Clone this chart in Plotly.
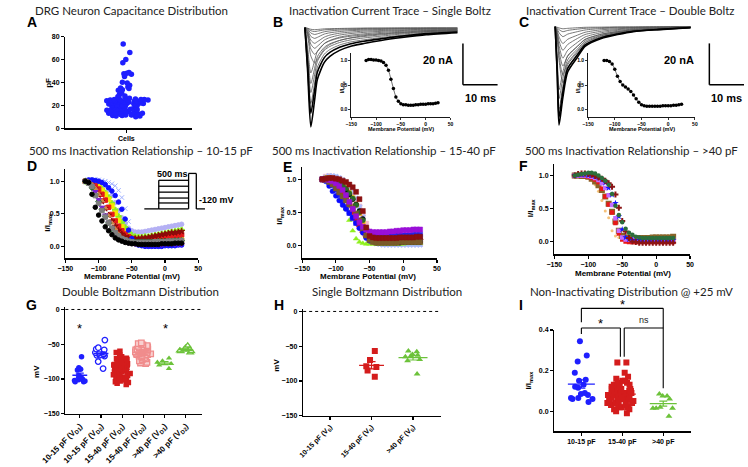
import statistics
import plotly.graph_objects as go

W, H = 748, 467

# ---------------- data ----------------
capacitance_pF = [73.5, 66, 60, 57, 48.5, 48, 47.5, 47, 45, 40, 39.5, 37.5, 36, 35, 34.5, 33.5, 33, 32.5, 30.5, 29,
                  28, 27.5, 26.5, 26, 25.5, 25, 25, 25, 25, 24.5, 24.5, 24.5, 24, 24, 24, 24, 23.5, 23.5, 23, 23,
                  23, 22.5, 22.5, 22, 22, 22, 21.5, 21.5, 21, 21, 21, 20.5, 20.5, 20, 20, 20, 19.5, 19.5, 19, 19,
                  18.5, 18, 17.5, 17.5, 17, 17, 16.5, 16.5, 16, 16, 16, 15.5, 15.5, 15.5, 15, 15, 15, 14.5, 14.5,
                  14.5, 14, 14, 14, 13.5, 13.5, 13, 13, 13, 12.5, 12.5, 12, 12, 12, 11.5, 11.5, 11, 11, 11, 10.5,
                  10.5, 10]

# current traces (ms, nA)
time_B = [0, 0.8, 1.7, 2.8, 3.6, 5.6, 7.2, 10, 13, 17, 22, 28, 35, 44]
sweep_B1 = [0, -21.6, -48.0, -35.0, -25.0, -16.8, -13.9, -11.0, -9.1, -7.7, -6.2, -4.8, -3.4, -2.4]
sweep_B2 = [0, -18.6, -41.4, -30.2, -21.5, -14.5, -12.0, -9.5, -7.9, -6.6, -5.4, -4.1, -2.9, -2.1]
sweep_B3 = [0, -16.5, -36.7, -26.8, -19.1, -12.8, -10.6, -8.4, -7.0, -5.9, -4.8, -3.7, -2.6, -1.8]
sweep_B4 = [0, -14.1, -31.4, -22.9, -16.3, -11.0, -9.1, -7.2, -6.0, -5.0, -4.1, -3.1, -2.2, -1.6]
sweep_B5 = [0, -12.2, -27.0, -19.7, -14.0, -9.5, -7.8, -6.2, -5.1, -4.3, -3.5, -2.7, -1.9, -1.4]
sweep_B6 = [0, -9.9, -21.9, -16.0, -11.4, -7.7, -6.4, -5.0, -4.2, -3.5, -2.8, -2.2, -1.5, -1.1]
sweep_B7 = [0, -4.3, -13.7, -17.1, -15.4, -10.3, -8.2, -6.2, -5.0, -3.9, -3.1, -2.4, -1.9, -1.5]
sweep_B8 = [0, -3.2, -10.3, -12.9, -11.6, -7.7, -6.2, -4.6, -3.7, -3.0, -2.3, -1.8, -1.4, -1.2]
sweep_B9 = [0, -2.5, -8.0, -10.0, -9.0, -6.0, -4.8, -3.6, -2.9, -2.3, -1.8, -1.4, -1.1, -0.9]
sweep_B10 = [0, -1.9, -6.1, -7.6, -6.8, -4.6, -3.6, -2.7, -2.2, -1.7, -1.4, -1.1, -0.8, -0.7]
sweep_B11 = [0, -1.3, -4.2, -5.2, -4.7, -3.1, -2.5, -1.9, -1.5, -1.2, -0.9, -0.7, -0.6, -0.5]
sweep_B12 = [0, -0.8, -2.6, -3.3, -3.0, -2.0, -1.6, -1.2, -1.0, -0.8, -0.6, -0.5, -0.4, -0.3]
sweep_B13 = [0, -0.5, -1.5, -1.9, -1.7, -1.1, -0.9, -0.7, -0.6, -0.4, -0.3, -0.3, -0.2, -0.2]
sweep_B14 = [0, -0.3, -0.8, -1.0, -0.9, -0.6, -0.5, -0.4, -0.3, -0.2, -0.2, -0.1, -0.1, -0.1]

time_C = [0, 0.6, 1.1, 2.2, 3.6, 6.4, 8.6, 13.3, 18, 22.5, 30, 39]
sweep_C1 = [0, -23.8, -47.6, -34.3, -21.9, -14.8, -9.5, -5.7, -3.8, -2.4, -1.4, -0.5]
sweep_C2 = [0, -21.9, -43.8, -31.5, -20.1, -13.6, -8.8, -5.3, -3.5, -2.2, -1.3, -0.4]
sweep_C3 = [0, -20.0, -40.0, -28.8, -18.4, -12.4, -8.0, -4.8, -3.2, -2.0, -1.2, -0.4]
sweep_C4 = [0, -17.4, -34.8, -25.1, -16.0, -10.8, -7.0, -4.2, -2.8, -1.7, -1.0, -0.3]
sweep_C5 = [0, -15.3, -30.5, -22.0, -14.0, -9.5, -6.1, -3.7, -2.4, -1.5, -0.9, -0.3]
sweep_C6 = [0, -6.8, -16.2, -27.0, -20.3, -13.5, -8.9, -5.1, -3.2, -2.2, -1.2, -0.5]
sweep_C7 = [0, -5.8, -14.0, -23.3, -17.5, -11.7, -7.7, -4.4, -2.8, -1.9, -1.0, -0.5]
sweep_C8 = [0, -4.8, -11.4, -19.0, -14.3, -9.5, -6.3, -3.6, -2.3, -1.5, -0.9, -0.4]
sweep_C9 = [0, -3.8, -9.1, -15.2, -11.4, -7.6, -5.0, -2.9, -1.8, -1.2, -0.7, -0.3]
sweep_C10 = [0, -2.9, -6.8, -11.4, -8.6, -5.7, -3.8, -2.2, -1.4, -0.9, -0.5, -0.2]
sweep_C11 = [0, -2.0, -4.9, -8.1, -6.1, -4.1, -2.7, -1.5, -1.0, -0.6, -0.4, -0.2]
sweep_C12 = [0, -1.2, -2.9, -4.8, -3.6, -2.4, -1.6, -0.9, -0.6, -0.4, -0.2, -0.1]
sweep_C13 = [0, -0.6, -1.4, -2.4, -1.8, -1.2, -0.8, -0.5, -0.3, -0.2, -0.1, 0.0]
sweep_C14 = [0, -0.3, -0.6, -1.0, -0.8, -0.5, -0.3, -0.2, -0.1, -0.1, 0.0, 0.0]

membrane_mV = [-120, -115, -110, -105, -100, -95, -90, -85, -80, -75, -70, -65, -60, -55, -50,
               -45, -40, -35, -30, -25, -20, -15, -10, -5, 0, 5, 10, 15, 20, 25]

inset_single = [1.00, 1.02, 1.02, 1.01, 1.01, 1.00, 0.99, 0.96, 0.90, 0.80, 0.62, 0.43, 0.26, 0.17, 0.12,
                0.10, 0.10, 0.09, 0.09, 0.09, 0.10, 0.10, 0.11, 0.11, 0.11, 0.12, 0.12, 0.12, 0.13, 0.14]
inset_double = [1.00, 1.00, 0.98, 0.93, 0.82, 0.68, 0.57, 0.50, 0.46, 0.42, 0.37, 0.30, 0.22, 0.15, 0.10,
                0.08, 0.07, 0.07, 0.07, 0.07, 0.07, 0.07, 0.08, 0.08, 0.08, 0.08, 0.09, 0.09, 0.10, 0.11]

# D: 10-15 pF cells
d_black = [1.00, 0.98, 0.80, 0.60, 0.48, 0.39, 0.30, 0.24, 0.18, 0.13, 0.10, 0.08, 0.06, 0.05, 0.04, 0.04, 0.03, 0.03, 0.03, 0.03, 0.03, 0.03, 0.03, 0.04, 0.04, 0.04, 0.04, 0.05, 0.05, 0.05]
d_gray = [1.00, 0.97, 0.92, 0.78, 0.66, 0.55, 0.45, 0.36, 0.28, 0.21, 0.16, 0.12, 0.10, 0.08, 0.07, 0.06, 0.06, 0.06, 0.06, 0.06, 0.06, 0.07, 0.07, 0.07, 0.07, 0.08, 0.08, 0.08, 0.08, 0.09]
d_blue = [1.00, 1.02, 1.02, 1.01, 1.00, 0.98, 0.95, 0.90, 0.85, 0.78, 0.68, 0.57, 0.42, 0.25, 0.12, 0.05, 0.02, 0.01, 0.00, 0.00, 0.00, 0.00, 0.00, 0.00, 0.01, 0.01, 0.01, 0.01, 0.02, 0.02]
d_red = [1.00, 1.00, 0.97, 0.93, 0.88, 0.80, 0.71, 0.60, 0.49, 0.39, 0.31, 0.24, 0.19, 0.15, 0.12, 0.11, 0.10, 0.10, 0.10, 0.10, 0.11, 0.11, 0.12, 0.13, 0.14, 0.14, 0.15, 0.16, 0.17, 0.18]
d_yellow = [1.00, 0.99, 0.97, 0.95, 0.91, 0.86, 0.80, 0.72, 0.62, 0.51, 0.40, 0.30, 0.22, 0.15, 0.10, 0.08, 0.06, 0.06, 0.06, 0.06, 0.06, 0.07, 0.07, 0.07, 0.08, 0.08, 0.08, 0.09, 0.09, 0.10]
d_lime = [1.00, 1.00, 0.98, 0.96, 0.93, 0.88, 0.82, 0.75, 0.66, 0.56, 0.46, 0.37, 0.29, 0.22, 0.17, 0.15, 0.14, 0.14, 0.15, 0.15, 0.16, 0.17, 0.18, 0.19, 0.20, 0.21, 0.22, 0.23, 0.24, 0.25]
d_maroon = [1.00, 0.98, 0.94, 0.88, 0.79, 0.69, 0.58, 0.48, 0.39, 0.31, 0.24, 0.19, 0.15, 0.13, 0.12, 0.12, 0.12, 0.13, 0.13, 0.14, 0.15, 0.16, 0.17, 0.18, 0.19, 0.20, 0.21, 0.21, 0.22, 0.23]
d_orange = [1.00, 0.99, 0.95, 0.89, 0.80, 0.70, 0.59, 0.47, 0.36, 0.27, 0.19, 0.13, 0.09, 0.06, 0.04, 0.03, 0.03, 0.03, 0.03, 0.03, 0.03, 0.03, 0.03, 0.04, 0.04, 0.04, 0.04, 0.05, 0.05, 0.05]
d_dkgreen = [1.00, 0.97, 0.90, 0.80, 0.69, 0.57, 0.46, 0.36, 0.27, 0.20, 0.15, 0.11, 0.09, 0.08, 0.07, 0.07, 0.07, 0.07, 0.07, 0.07, 0.07, 0.07, 0.08, 0.08, 0.08, 0.08, 0.08, 0.09, 0.09, 0.09]
d_lavender = [1.00, 1.01, 1.02, 1.01, 1.00, 0.97, 0.93, 0.87, 0.78, 0.67, 0.55, 0.44, 0.35, 0.28, 0.24, 0.22, 0.22, 0.22, 0.23, 0.24, 0.25, 0.26, 0.27, 0.28, 0.29, 0.30, 0.31, 0.32, 0.33, 0.34]
d_ltblue = [1.00, 1.02, 1.03, 1.03, 1.02, 1.01, 1.00, 0.98, 0.96, 0.93, 0.86, 0.75, 0.58, 0.38, 0.20, 0.10, 0.06, 0.05, 0.05, 0.05, 0.05, 0.05, 0.06, 0.06, 0.06, 0.06, 0.07, 0.07, 0.07, 0.08]
d_purple = [1.00, 0.99, 0.93, 0.84, 0.72, 0.60, 0.48, 0.37, 0.28, 0.20, 0.14, 0.10, 0.07, 0.05, 0.04, 0.03, 0.03, 0.03, 0.02, 0.02, 0.02, 0.02, 0.02, 0.02, 0.03, 0.03, 0.03, 0.03, 0.03, 0.03]

# E: 15-40 pF cells
e_blue = [1.00, 0.97, 0.90, 0.82, 0.75, 0.68, 0.61, 0.55, 0.49, 0.42, 0.34, 0.26, 0.19, 0.11, 0.07, 0.06, 0.06, 0.06, 0.06, 0.06, 0.06, 0.06, 0.07, 0.07, 0.07, 0.07, 0.07, 0.08, 0.08, 0.08]
e_lime = [1.00, 1.00, 0.98, 0.94, 0.88, 0.80, 0.70, 0.55, 0.38, 0.22, 0.10, 0.05, 0.03, 0.02, 0.02, 0.02, 0.02, 0.02, 0.02, 0.02, 0.02, 0.02, 0.02, 0.02, 0.02, 0.03, 0.03, 0.03, 0.03, 0.03]
e_maroon = [1.00, 1.01, 1.02, 1.02, 1.01, 1.00, 0.98, 0.96, 0.92, 0.88, 0.81, 0.70, 0.52, 0.27, 0.14, 0.12, 0.11, 0.11, 0.11, 0.11, 0.11, 0.11, 0.11, 0.12, 0.12, 0.12, 0.12, 0.12, 0.13, 0.13]
e_purple = [1.00, 1.00, 0.99, 0.97, 0.94, 0.90, 0.84, 0.76, 0.66, 0.55, 0.44, 0.35, 0.28, 0.24, 0.21, 0.20, 0.20, 0.20, 0.20, 0.20, 0.21, 0.21, 0.22, 0.22, 0.23, 0.23, 0.23, 0.24, 0.24, 0.24]
e_dkgreen = [1.00, 1.01, 1.01, 1.00, 0.98, 0.95, 0.91, 0.86, 0.79, 0.71, 0.61, 0.50, 0.38, 0.25, 0.15, 0.10, 0.08, 0.08, 0.08, 0.08, 0.08, 0.08, 0.08, 0.08, 0.09, 0.09, 0.09, 0.09, 0.09, 0.10]
e_brown = [1.00, 0.99, 0.96, 0.92, 0.86, 0.80, 0.74, 0.68, 0.62, 0.56, 0.48, 0.38, 0.26, 0.15, 0.08, 0.05, 0.04, 0.04, 0.04, 0.04, 0.04, 0.04, 0.04, 0.05, 0.05, 0.05, 0.05, 0.05, 0.05, 0.05]
e_gray = [1.00, 1.01, 1.00, 0.98, 0.94, 0.89, 0.83, 0.75, 0.66, 0.57, 0.47, 0.36, 0.24, 0.14, 0.08, 0.06, 0.05, 0.05, 0.05, 0.05, 0.05, 0.05, 0.05, 0.06, 0.06, 0.06, 0.06, 0.06, 0.06, 0.07]
e_yellow = [1.00, 1.02, 1.02, 1.01, 0.99, 0.96, 0.92, 0.87, 0.80, 0.72, 0.62, 0.49, 0.35, 0.22, 0.13, 0.09, 0.08, 0.08, 0.08, 0.08, 0.08, 0.08, 0.08, 0.08, 0.08, 0.08, 0.09, 0.09, 0.09, 0.09]
e_ltblue = [1.00, 1.03, 1.05, 1.05, 1.04, 1.02, 0.99, 0.95, 0.89, 0.81, 0.71, 0.58, 0.43, 0.27, 0.14, 0.06, 0.03, 0.02, 0.01, 0.01, 0.01, 0.01, 0.01, 0.01, 0.01, 0.01, 0.01, 0.01, 0.01, 0.01]
e_red = [1.00, 1.00, 0.99, 0.97, 0.93, 0.88, 0.81, 0.72, 0.62, 0.51, 0.40, 0.29, 0.20, 0.13, 0.09, 0.07, 0.06, 0.06, 0.06, 0.06, 0.06, 0.07, 0.07, 0.07, 0.08, 0.08, 0.08, 0.08, 0.09, 0.09]
e_black = [1.00, 1.01, 1.01, 1.00, 0.98, 0.95, 0.90, 0.84, 0.77, 0.70, 0.62, 0.52, 0.40, 0.26, 0.13, 0.06, 0.04, 0.04, 0.04, 0.04, 0.04, 0.04, 0.04, 0.04, 0.05, 0.05, 0.05, 0.05, 0.05, 0.05]
e_orange = [1.00, 1.02, 1.03, 1.02, 1.00, 0.97, 0.93, 0.87, 0.80, 0.71, 0.60, 0.47, 0.33, 0.21, 0.12, 0.08, 0.07, 0.07, 0.07, 0.07, 0.07, 0.07, 0.07, 0.07, 0.07, 0.08, 0.08, 0.08, 0.08, 0.08]
e_pink = [1.00, 1.04, 1.05, 1.04, 1.02, 0.99, 0.95, 0.90, 0.84, 0.77, 0.69, 0.59, 0.47, 0.33, 0.20, 0.10, 0.05, 0.03, 0.02, 0.02, 0.02, 0.02, 0.02, 0.02, 0.02, 0.02, 0.02, 0.02, 0.02, 0.02]
e_navy = [1.00, 0.99, 0.96, 0.91, 0.84, 0.76, 0.67, 0.58, 0.49, 0.41, 0.34, 0.28, 0.23, 0.19, 0.16, 0.15, 0.14, 0.14, 0.14, 0.14, 0.14, 0.14, 0.15, 0.15, 0.15, 0.15, 0.15, 0.16, 0.16, 0.16]

# F: >40 pF cells
f_dkgreen = [1.00, 1.01, 1.02, 1.03, 1.04, 1.04, 1.03, 1.00, 0.96, 0.92, 0.86, 0.72, 0.54, 0.40, 0.29, 0.19, 0.13, 0.10, 0.07, 0.06, 0.05, 0.05, 0.05, 0.05, 0.05, 0.05, 0.05, 0.05, 0.05, 0.05]
f_maroon = [1.00, 1.02, 1.03, 1.03, 1.02, 1.01, 0.99, 0.97, 0.95, 0.92, 0.88, 0.83, 0.71, 0.51, 0.31, 0.15, 0.05, 0.00, -0.01, -0.02, -0.02, -0.02, -0.02, -0.02, -0.02, -0.02, -0.02, -0.02, -0.02, -0.02]
f_blue = [1.00, 1.01, 1.01, 1.01, 1.00, 1.00, 0.99, 0.97, 0.94, 0.89, 0.81, 0.71, 0.58, 0.38, 0.18, 0.06, 0.03, 0.02, 0.02, 0.02, 0.02, 0.02, 0.02, 0.02, 0.02, 0.02, 0.02, 0.02, 0.02, 0.02]
f_red = [1.00, 1.00, 1.00, 0.99, 0.98, 0.96, 0.94, 0.90, 0.80, 0.68, 0.56, 0.44, 0.28, 0.12, 0.03, 0.00, -0.01, -0.01, -0.01, -0.01, -0.01, -0.01, -0.01, -0.01, -0.01, -0.01, -0.01, -0.01, -0.01, -0.01]
f_brown = [1.00, 1.00, 0.99, 0.99, 0.98, 0.95, 0.91, 0.85, 0.78, 0.68, 0.57, 0.45, 0.30, 0.16, 0.08, 0.06, 0.05, 0.05, 0.05, 0.05, 0.05, 0.05, 0.05, 0.06, 0.06, 0.06, 0.06, 0.06, 0.06, 0.07]
f_purple = [1.00, 1.00, 1.00, 1.00, 0.99, 0.98, 0.96, 0.93, 0.88, 0.81, 0.70, 0.55, 0.35, 0.16, 0.06, 0.03, 0.03, 0.03, 0.03, 0.03, 0.03, 0.03, 0.03, 0.03, 0.03, 0.03, 0.03, 0.03, 0.03, 0.03]
f_orange = [1.00, 1.00, 0.99, 0.98, 0.96, 0.92, 0.86, 0.76, 0.62, 0.46, 0.36, 0.16, 0.08, 0.06, 0.05, 0.05, 0.05, 0.05, 0.05, 0.05, 0.05, 0.05, 0.05, 0.05, 0.05, 0.05, 0.05, 0.05, 0.05, 0.05]

# G: double Boltzmann V1/2 (mV)
g_10_15_vd1 = [-68, -84, -86, -87, -95, -97, -99, -100, -101, -102, -103, -104, -104]
g_10_15_vd2 = [-44, -55, -57, -58, -60, -61, -62, -63, -64, -65, -65, -66, -66, -67, -75, -85]
g_15_40_vd1 = [-60, -62, -65, -68, -70, -71, -72, -73, -74, -75, -76, -77, -78, -79, -80, -80, -81, -82, -83,
               -84, -85, -85, -86, -87, -88, -89, -90, -90, -91, -92, -93, -94, -95, -96, -97, -98, -99, -100,
               -101, -102, -103, -104, -105, -106, -108]
g_15_40_vd2 = [-48, -49, -50, -51, -52, -53, -54, -54, -55, -55, -56, -56, -57, -57, -58, -58, -59, -59, -60,
               -60, -60, -61, -61, -61, -62, -62, -62, -63, -63, -64, -64, -65, -65, -66, -66, -67, -68, -69,
               -70, -71, -72, -74, -76, -77, -78]
g_40_vd1 = [-70, -74, -76, -78, -80, -85]
g_40_vd2 = [-52, -55, -57, -58, -59, -60, -60, -62]
g_labels = ["10-15 pF (V<sub>D1</sub>)", "10-15 pF (V<sub>D2</sub>)", "15-40 pF (V<sub>D1</sub>)",
            "15-40 pF (V<sub>D2</sub>)", ">40 pF (V<sub>D1</sub>)", ">40 pF (V<sub>D2</sub>)"]

# H: single Boltzmann V1/2 (mV)
h_15_40_vs = [-57, -70, -79, -80, -85, -94]
h_40_vs = [-58, -57, -62, -63, -64, -65, -69, -71, -90]
h_labels = ["10-15 pF (V<sub>S</sub>)", "15-40 pF (V<sub>S</sub>)", ">40 pF (V<sub>S</sub>)"]

# I: non-inactivating fraction at +25 mV
i_10_15 = [0.345, 0.275, 0.245, 0.19, 0.155, 0.15, 0.13, 0.12, 0.115, 0.09, 0.085, 0.08, 0.065, 0.065, 0.06,
           0.06, 0.045]
i_15_40 = [0.24, 0.24, 0.19, 0.17, 0.16, 0.15, 0.15, 0.14, 0.14, 0.13, 0.13, 0.13, 0.12, 0.12, 0.12, 0.11, 0.11,
           0.11, 0.10, 0.10, 0.10, 0.10, 0.09, 0.09, 0.09, 0.09, 0.08, 0.08, 0.08, 0.08, 0.07, 0.07, 0.07, 0.07,
           0.06, 0.06, 0.06, 0.06, 0.05, 0.05, 0.05, 0.05, 0.04, 0.04, 0.04, 0.04, 0.03, 0.03, 0.03, 0.03, 0.02,
           0.02, 0.02, 0.01, 0.01, 0.00, -0.01]
i_40 = [0.085, 0.075, 0.075, 0.06, 0.02, 0.015, 0.015, 0.015, -0.025]
i_labels = ["10-15 pF", "15-40 pF", ">40 pF"]

# ---------------- helpers ----------------
BLUE = "#1f1fff"
RED = "#d41c1c"
LRED = "#f08c8c"
GREEN = "#6cc23a"
TICKFONT = dict(family="Liberation Sans", size=7, color="black", weight="bold")


def dom_x(a, b):
    return [a / W, b / W]


def dom_y(top, bottom):
    return [1 - bottom / H, 1 - top / H]


def axis(domain, rng, anchor, **kw):
    d = dict(domain=domain, range=rng, anchor=anchor, showline=True, linecolor="black", linewidth=1.4,
             ticks="outside", ticklen=3, tickwidth=1.2, tickcolor="black", showgrid=False, zeroline=False,
             tickfont=TICKFONT, fixedrange=True)
    d.update(kw)
    return d


fig = go.Figure()
layout = dict(width=W, height=H, margin=dict(l=0, r=0, t=0, b=0), paper_bgcolor="white",
              plot_bgcolor="rgba(0,0,0,0)", showlegend=False)

small_tf = dict(family="Liberation Sans", size=5, color="black", weight="bold")
cat_tf_g = dict(family="Liberation Sans", size=8, color="black", weight="bold")
cat_tf_h = dict(family="Liberation Sans", size=7, color="black", weight="bold")
layout["xaxis"] = axis(dom_x(43, 175), [-0.48, 0.52], "y", tickvals=[0], ticktext=["Cells"])
layout["yaxis"] = axis(dom_y(33, 126), [0, 80], "x", tickvals=[0, 20, 40, 60, 80])
layout["xaxis2"] = dict(domain=dom_x(285, 460), range=[-1.9, 46.7], anchor="y2", visible=False, fixedrange=True)
layout["yaxis2"] = dict(domain=dom_y(20, 130), range=[-50.5, 1.9], anchor="x2", visible=False, fixedrange=True)
layout["xaxis3"] = axis(dom_x(340, 443), [-150, 50], "y3", tickvals=[-150, -100, -50, 0, 50], tickfont=small_tf,
                        linewidth=0.9, ticklen=2, tickwidth=0.8)
layout["yaxis3"] = axis(dom_y(50, 115), [-0.154, 1.146], "x3", tickvals=[0, 0.5, 1], tickformat=".1f",
                        tickfont=small_tf, linewidth=0.9, ticklen=2, tickwidth=0.8)
layout["xaxis4"] = dict(domain=dom_x(545, 700), range=[-1.9, 41.1], anchor="y4", visible=False, fixedrange=True)
layout["yaxis4"] = dict(domain=dom_y(18, 128), range=[-50.0, 2.4], anchor="x4", visible=False, fixedrange=True)
layout["xaxis5"] = axis(dom_x(586, 697), [-150, 50], "y5", tickvals=[-150, -100, -50, 0, 50], tickfont=small_tf,
                        linewidth=0.9, ticklen=2, tickwidth=0.8)
layout["yaxis5"] = axis(dom_y(50, 115), [-0.154, 1.146], "x5", tickvals=[0, 0.5, 1], tickformat=".1f",
                        tickfont=small_tf, linewidth=0.9, ticklen=2, tickwidth=0.8)
vt = [-150, -100, -50, 0, 50]
layout["xaxis6"] = axis(dom_x(43, 181), [-150, 50], "y6", tickvals=vt)
layout["yaxis6"] = axis(dom_y(168, 258), [-0.18, 1.18], "x6", tickvals=[0, 0.5, 1], tickformat=".1f")
layout["xaxis7"] = axis(dom_x(289, 429), [-150, 50], "y7", tickvals=vt)
layout["yaxis7"] = axis(dom_y(165, 258), [-0.194, 1.194], "x7", tickvals=[0, 0.5, 1], tickformat=".1f")
layout["xaxis8"] = axis(dom_x(551, 692), [-150, 50], "y8", tickvals=vt)
layout["yaxis8"] = axis(dom_y(162, 254), [-0.194, 1.18], "x8", tickvals=[0, 0.5, 1], tickformat=".1f")
layout["xaxis9"] = axis(dom_x(43, 185), [-0.68, 5.77], "y9", tickvals=list(range(6)), ticktext=g_labels,
                        tickangle=-45, tickfont=cat_tf_g)
layout["yaxis9"] = axis(dom_y(308, 416), [-150, 3], "x9", tickvals=[-150, -100, -50, 0])
layout["xaxis10"] = axis(dom_x(290, 433), [-0.65, 2.67], "y10", tickvals=[0, 1, 2], ticktext=h_labels,
                         tickangle=-45, tickfont=cat_tf_h)
layout["yaxis10"] = axis(dom_y(310, 418), [-150, 3], "x10", tickvals=[-150, -100, -50, 0])
layout["xaxis11"] = axis(dom_x(551, 693), [-0.66, 2.68], "y11", tickvals=[0, 1, 2], ticktext=i_labels)
layout["yaxis11"] = axis(dom_y(331, 434), [-0.1, 0.4], "x11", tickvals=[0, 0.2, 0.4], tickformat=".1f")

# ---------------- A: swarm ----------------
fig.add_trace(go.Box(x=[0] * len(capacitance_pF), y=capacitance_pF, boxpoints="all", jitter=0.8, pointpos=0,
                     width=0.5, fillcolor="rgba(0,0,0,0)", line=dict(color="rgba(0,0,0,0)", width=0),
                     marker=dict(color=BLUE, size=5.5), xaxis="x", yaxis="y", hoverinfo="skip"))

# ---------------- B / C: current traces ----------------
sweeps_B = [sweep_B14, sweep_B13, sweep_B12, sweep_B11, sweep_B10, sweep_B9, sweep_B8, sweep_B7, sweep_B6,
            sweep_B5, sweep_B4, sweep_B3, sweep_B2, sweep_B1]
for k, s in enumerate(sweeps_B):
    big = k >= len(sweeps_B) - 2
    fig.add_trace(go.Scatter(x=time_B, y=s, mode="lines", xaxis="x2", yaxis="y2", hoverinfo="skip",
                             line=dict(color="black" if big else "#555555", width=1.6 if big else 0.8,
                                       shape="spline", smoothing=0.7)))
sweeps_C = [sweep_C14, sweep_C13, sweep_C12, sweep_C11, sweep_C10, sweep_C9, sweep_C8, sweep_C7, sweep_C6,
            sweep_C5, sweep_C4, sweep_C3, sweep_C2, sweep_C1]
for k, s in enumerate(sweeps_C):
    big = k >= len(sweeps_C) - 2
    fig.add_trace(go.Scatter(x=time_C, y=s, mode="lines", xaxis="x4", yaxis="y4", hoverinfo="skip",
                             line=dict(color="black" if big else "#555555", width=1.6 if big else 0.8,
                                       shape="spline", smoothing=0.7)))

for vals, xa, ya in [(inset_single, "x3", "y3"), (inset_double, "x5", "y5")]:
    fig.add_trace(go.Scatter(x=membrane_mV, y=vals, mode="lines+markers", xaxis=xa, yaxis=ya, hoverinfo="skip",
                             line=dict(color="#333333", width=0.7, shape="spline"),
                             marker=dict(color="black", size=3.5)))

# ---------------- D / E / F: inactivation families ----------------
d_series = [(d_lavender, "#b4b0f4", "circle"), (d_ltblue, "#9fb0ff", "x-thin-open"), (d_lime, "#8cf020", "cross"),
            (d_yellow, "#f5e800", "square"), (d_red, "#e41a1a", "square"), (d_maroon, "#8b0a0a", "star"),
            (d_blue, "#1010ff", "circle"), (d_orange, "#d2884a", "triangle-up"), (d_dkgreen, "#1e6b2c", "diamond"),
            (d_purple, "#7a1fd6", "triangle-down"), (d_gray, "#7f7f7f", "square"), (d_black, "#000000", "circle")]
for vals, col, sym in d_series:
    fig.add_trace(go.Scatter(x=membrane_mV, y=vals, mode="markers", xaxis="x6", yaxis="y6", hoverinfo="skip",
                             marker=dict(color=col, symbol=sym, size=4.5, line=dict(color=col, width=1))))

e_series = [(e_pink, "#f4b6c8", "square"), (e_ltblue, "#a8bcff", "x"), (e_lime, "#8ef01c", "triangle-up"),
            (e_navy, "#2323e8", "square"), (e_yellow, "#e8e000", "circle"), (e_orange, "#ff9a1a", "triangle-up"),
            (e_gray, "#8c8c8c", "square"), (e_red, "#e01c1c", "diamond"), (e_black, "#000000", "circle"),
            (e_blue, "#0a0aff", "circle"), (e_dkgreen, "#2a6a2a", "circle"), (e_brown, "#7a5a2a", "square"),
            (e_purple, "#9a10d8", "square"), (e_maroon, "#8b1010", "square")]
for vals, col, sym in e_series:
    fig.add_trace(go.Scatter(x=membrane_mV, y=vals, mode="markers", xaxis="x7", yaxis="y7", hoverinfo="skip",
                             marker=dict(color=col, symbol=sym, size=5, line=dict(color=col, width=0.5))))

f_series = [(f_orange, "#f6c27a", "circle", 3), (f_brown, "#8a6428", "square", 6), (f_red, "#e81818", "square", 4.5),
            (f_purple, "#c46cff", "square", 4.5), (f_blue, "#1414ff", "star", 5), (f_maroon, "#8b1515", "cross", 5),
            (f_dkgreen, "#2c6e3c", "circle", 4.5)]
for vals, col, sym, sz in f_series:
    fig.add_trace(go.Scatter(x=membrane_mV, y=vals, mode="markers", xaxis="x8", yaxis="y8", hoverinfo="skip",
                             marker=dict(color=col, symbol=sym, size=sz)))


# ---------------- G / H / I: distributions ----------------
def dist(pos, vals, color, symbol, xa, ya, width=0.8, size=5.5, open_=False, fill=None, half=0.35):
    mk = dict(color=fill if fill else ("white" if open_ else color), symbol=symbol, size=size,
              line=dict(color=color, width=1.3 if open_ else 0))
    fig.add_trace(go.Box(x=[pos] * len(vals), y=vals, boxpoints="all", jitter=1, pointpos=0, width=width,
                         fillcolor="rgba(0,0,0,0)", line=dict(color="rgba(0,0,0,0)", width=0), marker=mk,
                         xaxis=xa, yaxis=ya, hoverinfo="skip"))
    m = statistics.mean(vals)
    sem = statistics.stdev(vals) / len(vals) ** 0.5
    fig.add_trace(go.Scatter(x=[pos - half, pos + half], y=[m, m], mode="lines", xaxis=xa, yaxis=ya,
                             line=dict(color=color, width=1.3), hoverinfo="skip"))
    fig.add_trace(go.Scatter(x=[pos], y=[m], mode="markers", xaxis=xa, yaxis=ya, hoverinfo="skip",
                             marker=dict(size=1, opacity=0),
                             error_y=dict(type="data", array=[sem], visible=True, color=color, thickness=1.2,
                                          width=4)))


dist(0, g_10_15_vd1, BLUE, "circle", "x9", "y9", width=0.7)
dist(1, g_10_15_vd2, BLUE, "circle", "x9", "y9", width=0.8, open_=True)
dist(2, g_15_40_vd1, RED, "square", "x9", "y9", width=0.9)
dist(3, g_15_40_vd2, LRED, "square", "x9", "y9", width=0.9, open_=True, fill="#f9d0d0")
dist(4, g_40_vd1, GREEN, "triangle-up", "x9", "y9", width=0.8)
dist(5, g_40_vd2, GREEN, "triangle-up", "x9", "y9", width=0.8, open_=True)

dist(1, h_15_40_vs, RED, "square", "x10", "y10", width=0.3, size=6, half=0.3)
dist(2, h_40_vs, GREEN, "triangle-up", "x10", "y10", width=0.7, size=6, half=0.35)

dist(0, i_10_15, BLUE, "circle", "x11", "y11", width=0.7, size=6, half=0.33)
dist(1, i_15_40, RED, "square", "x11", "y11", width=0.75, size=6, half=0.33)
dist(2, i_40, GREEN, "triangle-up", "x11", "y11", width=0.7, size=6, half=0.33)

# ---------------- text & decorations ----------------
ann = []
TITLE = dict(family="Lato", size=11.5, color="#222222")


def text(x, y, s, font, **kw):
    d = dict(x=x / W, y=1 - y / H, xref="paper", yref="paper", text=s, showarrow=False, font=font,
             xanchor="center", yanchor="middle")
    d.update(kw)
    ann.append(d)


for s, x, y in [("DRG Neuron Capacitance Distribution", 112, 7),
                ("Inactivation Current Trace – Single Boltz", 380, 7),
                ("Inactivation Current Trace – Double Boltz", 630, 7),
                ("500 ms Inactivation Relationship – 10-15 pF", 122, 149),
                ("500 ms Inactivation Relationship – 15-40 pF", 374, 149),
                ("500 ms Inactivation Relationship – >40 pF", 631, 149),
                ("Double Boltzmann Distribution", 121, 292),
                ("Single Boltzmann Distribution", 377, 292),
                ("Non-Inactivating Distribution @ +25 mV", 631, 292)]:
    text(x, y, s, TITLE)

LETTER = dict(family="Liberation Sans", size=14, color="black", weight="bold")
for s, x, y in [("A", 8, 18), ("B", 264, 18), ("C", 519, 18), ("D", 8, 164), ("E", 274, 165), ("F", 519, 164),
                ("G", 8, 306), ("H", 265, 306), ("I", 516, 306)]:
    text(x, y, s, LETTER)

AX = dict(family="Liberation Sans", size=8, color="black", weight="bold")
AXS = dict(family="Liberation Sans", size=5.5, color="black", weight="bold")
IMAX = "I/I<sub>max</sub>"
text(26, 80, "pF", AX, textangle=-90)
text(25, 222, IMAX, AX, textangle=-90)
text(112, 277, "Membrane Potential (mV)", AX)
text(266, 215, IMAX, AX, textangle=-90)
text(357, 277, "Membrane Potential (mV)", AX)
text(527, 207, IMAX, AX, textangle=-90)
text(622, 274, "Membrane Potential (mV)", AX)
text(13, 373, "mV", AX, textangle=-90)
text(262, 367, "mV", AX, textangle=-90)
text(525, 382, IMAX, AX, textangle=-90)
text(331, 84, IMAX, AXS, textangle=-90)
text(392, 127, "Membrane Potential (mV)", AXS)
text(576, 84, IMAX, AXS, textangle=-90)
text(642, 127, "Membrane Potential (mV)", AXS)

BIG = dict(family="Liberation Sans", size=11, color="black", weight="bold")
text(430, 57, "20 nA", BIG)
text(474, 95, "10 ms", BIG)
text(680, 57, "20 nA", BIG)
text(730, 95, "10 ms", BIG)
PROT = dict(family="Liberation Sans", size=9, color="black", weight="bold")
text(154, 173, "500 ms", PROT)
text(200, 199, "-120 mV", PROT)

STAR = dict(family="Liberation Sans", size=13, color="black")
text(58, 329, "*", STAR)
text(147, 329, "*", STAR)
text(622, 305, "*", STAR)
text(599, 324, "*", STAR)
text(644, 321, "ns", dict(family="Liberation Sans", size=9, color="#222222"))

shapes = []


def seg(x0, y0, x1, y1, w=1.3, dash=None):
    ln = dict(color="black", width=w)
    if dash:
        ln["dash"] = dash
    shapes.append(dict(type="line", xref="paper", yref="paper", x0=x0 / W, y0=1 - y0 / H, x1=x1 / W,
                       y1=1 - y1 / H, line=ln))


# scale bars
seg(456, 40, 456, 82, 1.5)
seg(456, 82, 492, 82, 1.5)
seg(712, 40, 712, 82, 1.5)
seg(712, 82, 748, 82, 1.5)

# voltage protocol (D)
seg(125, 208, 140, 208)
seg(140, 179, 140, 208)
for yy in [179, 185, 191, 197, 202, 208]:
    seg(140, yy, 171, yy)
seg(171, 172, 171, 208)
seg(171, 172, 179, 172)
seg(179, 172, 179, 208)
seg(179, 208, 188, 208)

# dotted zero lines
for xa, ya in [("x9", "y9"), ("x10", "y10")]:
    shapes.append(dict(type="line", xref=xa + " domain", yref=ya, x0=0, x1=1, y0=0, y1=0,
                       line=dict(color="black", width=1, dash="dot")))


# significance brackets (I)
def cat_px(c):
    d0, d1 = layout["xaxis11"]["domain"]
    r0, r1 = layout["xaxis11"]["range"]
    return (d0 + (c - r0) / (r1 - r0) * (d1 - d0)) * W


c0, c1, c2 = cat_px(0), cat_px(1), cat_px(2)
seg(c0, 309, c2, 309, 1.1)
seg(c0, 309, c0, 323, 1.1)
seg(c2, 309, c2, 390, 1.1)
seg(c0, 329, c1 - 2, 329, 1.1)
seg(c0, 329, c0, 335, 1.1)
seg(c1 - 2, 329, c1 - 2, 358, 1.1)
seg(c1 + 2, 329, c2, 329, 1.1)
seg(c1 + 2, 329, c1 + 2, 358, 1.1)

layout["annotations"] = ann
layout["shapes"] = shapes
fig.update_layout(**layout)
fig.write_html("out.html", config={"displayModeBar": False, "staticPlot": True},
               post_script="document.body.style.margin='0';document.body.style.padding='0';"
                           "document.body.style.overflow='hidden';")
